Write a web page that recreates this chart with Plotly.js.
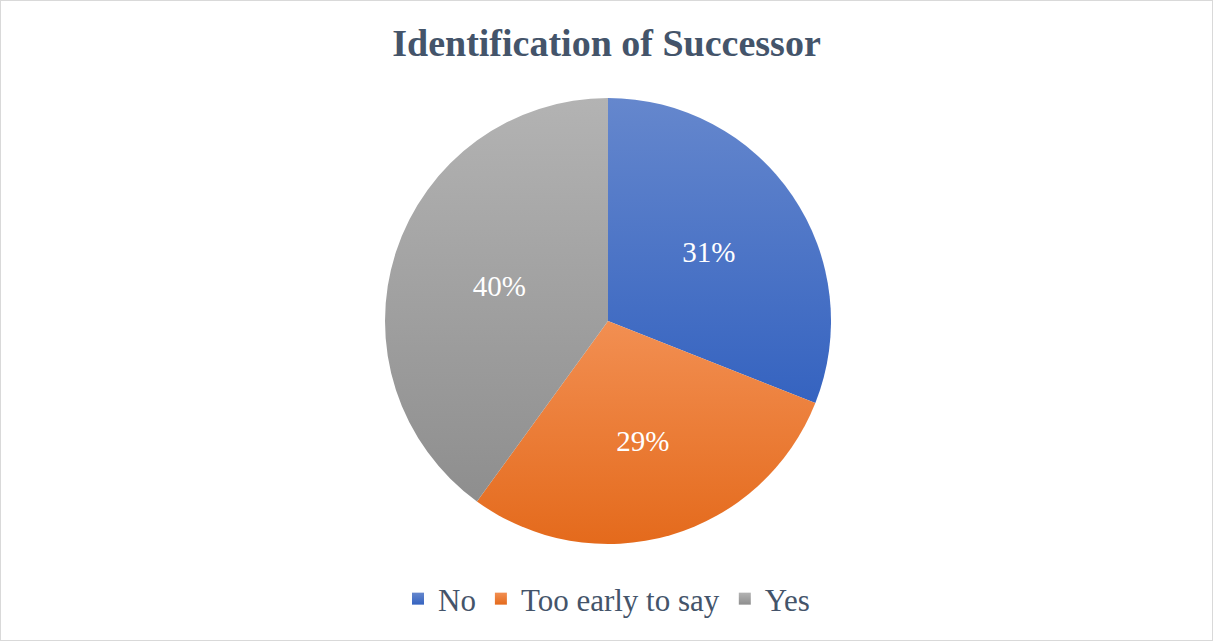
<!DOCTYPE html>
<html>
<head>
<meta charset="utf-8">
<script src="https://cdn.plot.ly/plotly-3.0.1.min.js"></script>
<style>
html,body{margin:0;padding:0;background:#fff;}
#chart{width:1213px;height:641px;box-sizing:border-box;border:1px solid #D9D9D9;}
</style>
</head>
<body>
<div id="chart"></div>
<script>
const categories = ["No", "Too early to say", "Yes"];
const values = [31, 29, 40];
const sliceColors = ["#4472C4", "#ED7D31", "#A5A5A5"];
const gradientStops = [["#6587CD", "#3563C0"], ["#F28F52", "#E46A1C"], ["#B3B3B3", "#8E8E8E"]];

const W = 1211, H = 639;
const cx = 607, cy = 320, R = 223;
const SERIF = "'Times New Roman', 'Liberation Serif', 'DejaVu Serif', serif";

const trace = {
  type: "pie",
  labels: categories,
  values: values,
  sort: false,
  direction: "clockwise",
  rotation: 0,
  marker: {colors: sliceColors, line: {width: 0}},
  textinfo: "percent",
  texttemplate: "%{percent:.0%}",
  textposition: "inside",
  insidetextorientation: "horizontal",
  textfont: {family: SERIF, size: 29, color: "#FFFFFF"},
  domain: {x: [(cx - R) / W, (cx + R) / W], y: [(H - cy - R) / H, (H - cy + R) / H]},
  hoverinfo: "label+percent"
};

const layout = {
  width: W, height: H,
  margin: {l: 0, r: 0, t: 0, b: 0},
  paper_bgcolor: "#FFFFFF",
  font: {family: SERIF},
  title: {
    text: "<b>Identification of Successor</b>",
    font: {family: SERIF, size: 38, color: "#44546A"},
    x: 0.5, xanchor: "center", y: 1 - 42 / H, yanchor: "middle"
  },
  showlegend: true,
  legend: {
    orientation: "h", x: 0.5, xanchor: "center", y: (H - 598) / H, yanchor: "middle",
    font: {family: SERIF, size: 31, color: "#44546A"},
    itemwidth: 30, traceorder: "normal"
  }
};

Plotly.newPlot("chart", [trace], layout, {displayModeBar: false, staticPlot: true}).then(function (gd) {
  const svg = gd.querySelector("svg.main-svg");
  const ns = "http://www.w3.org/2000/svg";
  let defs = svg.querySelector("defs");
  if (!defs) { defs = document.createElementNS(ns, "defs"); svg.insertBefore(defs, svg.firstChild); }
  gradientStops.forEach(function (g, i) {
    const lg = document.createElementNS(ns, "linearGradient");
    lg.setAttribute("id", "sliceGrad" + i);
    lg.setAttribute("x1", "0"); lg.setAttribute("y1", "0");
    lg.setAttribute("x2", "0"); lg.setAttribute("y2", "1");
    [[0, g[0]], [1, g[1]]].forEach(function (s) {
      const st = document.createElementNS(ns, "stop");
      st.setAttribute("offset", s[0]);
      st.setAttribute("stop-color", s[1]);
      lg.appendChild(st);
    });
    defs.appendChild(lg);
  });
  const paths = gd.querySelectorAll("g.slice path.surface");
  paths.forEach(function (p, i) {
    if (i < gradientStops.length) p.style.fill = "url(#sliceGrad" + i + ")";
  });
  const legendPts = gd.querySelectorAll(".legend .traces .legendpoints path");
  legendPts.forEach(function (p, i) {
    if (i < gradientStops.length) p.style.fill = "url(#sliceGrad" + i + ")";
  });
});
</script>
</body>
</html>
